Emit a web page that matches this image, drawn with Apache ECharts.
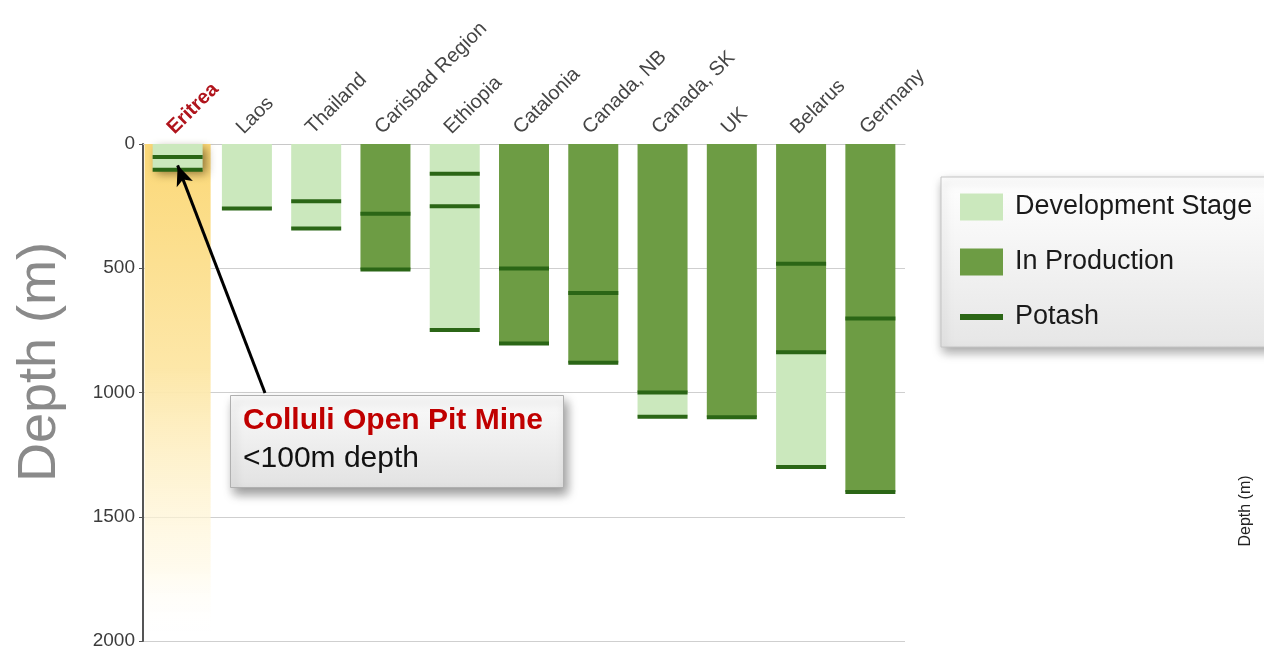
<!DOCTYPE html>
<html>
<head>
<meta charset="utf-8">
<title>Potash deposit depths</title>
<script src="https://cdn.jsdelivr.net/npm/echarts@6/dist/echarts.min.js"></script>
<style>
  html, body { margin: 0; padding: 0; background: #fff; }
  #chart { width: 1264px; height: 656px; }
</style>
</head>
<body>
<div id="chart"></div>
<script>
// ── data (depth in metres) ──
const categories = [
  "Eritrea", "Laos", "Thailand", "Carisbad Region", "Ethiopia",
  "Catalonia", "Canada, NB", "Canada, SK", "UK", "Belarus", "Germany",
];
const productionDepth = [0, 0, 0, 505, 0, 803, 880, 1000, 1100, 838, 1400];
const developmentDepth = [105, 260, 340, 0, 748, 0, 0, 98, 0, 462, 0];
const potashDepths = [
  [52, 104], [260], [230, 340], [281, 505], [120, 250, 748],
  [501, 803], [600, 880], [1000, 1098], [1100], [482, 838, 1300], [702, 1400],
];
// yellow highlight behind the Colluli (Eritrea) column
const highlightDepth = [2000, null, null, null, null, null, null, null, null, null, null];
const yTicks = { min: 0, max: 2000, interval: 500 };

// ── colours ──
const DEV_GREEN = "#cbe8bd";
const PROD_GREEN = "#6d9c44";
const POTASH_GREEN = "#2b6616";
const FONT = "'Liberation Sans', Arial, sans-serif";

const potashPoints = [];
potashDepths.forEach((list, i) => {
  list.forEach((d) => potashPoints.push([categories[i], d]));
});

const chart = echarts.init(document.getElementById("chart"));

chart.setOption({
  animation: false,
  textStyle: { fontFamily: FONT },
  grid: { left: 143, right: 359, top: 144, bottom: 15 },
  legend: {
    left: 941,
    top: 177,
    orient: "vertical",
    padding: [15, 40, 15, 19],
    itemWidth: 43,
    itemHeight: 27,
    itemGap: 25,
    backgroundColor: new echarts.graphic.LinearGradient(0, 0, 0, 1, [
      { offset: 0, color: "#ffffff" },
      { offset: 1, color: "#e6e6e6" },
    ]),
    borderColor: "#c4c4c4",
    borderWidth: 1,
    shadowBlur: 10,
    shadowColor: "rgba(0,0,0,0.35)",
    shadowOffsetX: 2,
    shadowOffsetY: 5,
    textStyle: { fontSize: 27, color: "#1a1a1a", lineHeight: 30, padding: [0, 0, 0, 7] },
    data: [
      { name: "Development Stage", icon: "rect" },
      { name: "In Production", icon: "rect" },
      { name: "Potash", icon: "path://M0,0H43V6H0Z" },
    ],
    selectedMode: false,
  },
  xAxis: [
    {
      type: "category",
      position: "top",
      data: categories,
      axisLine: { lineStyle: { color: "#c8c8c8", width: 1 } },
      axisTick: { show: false },
      axisLabel: {
        rotate: 45,
        margin: 6,
        fontSize: 20,
        color: "#454545",
        verticalAlign: "bottom",
        formatter: (v) => (v === "Eritrea" ? "{hl|" + v + "}" : v),
        rich: { hl: { fontSize: 20, fontWeight: "bold", color: "#b0141c" } },
      },
    },
    {
      // hidden twin axis, only so the highlight band can span the whole column
      type: "category",
      position: "top",
      data: categories,
      show: false,
    },
  ],
  yAxis: {
    type: "value",
    inverse: true,
    min: yTicks.min,
    max: yTicks.max,
    interval: yTicks.interval,
    axisLine: { show: true, lineStyle: { color: "#555", width: 2 } },
    axisTick: { show: true, length: 4, lineStyle: { color: "#555" } },
    axisLabel: { fontSize: 19, color: "#3c3c3c", margin: 8, formatter: (v) => String(v) },
    splitLine: { lineStyle: { color: "#cfcfcf", width: 1 } },
  },
  series: [
    {
      name: "highlight",
      type: "bar",
      xAxisIndex: 1,
      barWidth: 66,
      silent: true,
      z: 1,
      data: highlightDepth,
      itemStyle: {
        color: new echarts.graphic.LinearGradient(0, 0, 0, 1, [
          { offset: 0, color: "#fbd878" },
          { offset: 0.45, color: "#fde7a8" },
          { offset: 0.85, color: "rgba(255,248,225,0.6)" },
          { offset: 1, color: "rgba(255,255,255,0)" },
        ]),
      },
    },
    {
      name: "In Production",
      type: "bar",
      stack: "depth",
      barWidth: 50,
      z: 2,
      itemStyle: { color: PROD_GREEN },
      data: productionDepth,
    },
    {
      name: "Development Stage",
      type: "bar",
      stack: "depth",
      barWidth: 50,
      z: 2,
      itemStyle: { color: DEV_GREEN },
      data: developmentDepth.map((v, i) =>
        i === 0
          ? {
              value: v,
              itemStyle: {
                shadowBlur: 10,
                shadowColor: "rgba(60,40,0,0.55)",
                shadowOffsetX: 4,
                shadowOffsetY: 4,
              },
            }
          : v,
      ),
    },
    {
      name: "Potash",
      type: "scatter",
      symbol: "rect",
      symbolSize: [50, 4],
      z: 3,
      itemStyle: { color: POTASH_GREEN, opacity: 1 },
      data: potashPoints,
      markLine: {
        silent: true,
        symbol: ["none", "arrow"],
        symbolSize: [13, 20],
        label: { show: false },
        lineStyle: { color: "#000", width: 3, type: "solid" },
        data: [[{ x: 265, y: 393 }, { coord: ["Eritrea", 86] }]],
      },
    },
  ],
  graphic: [
    {
      type: "rect",
      left: 230,
      top: 395,
      z: 10,
      shape: { width: 333, height: 92 },
      style: {
        fill: new echarts.graphic.LinearGradient(0, 0, 0, 1, [
          { offset: 0, color: "#fbfbfb" },
          { offset: 1, color: "#e2e2e2" },
        ]),
        stroke: "#b0b0b0",
        lineWidth: 1,
        shadowBlur: 10,
        shadowColor: "rgba(0,0,0,0.4)",
        shadowOffsetX: 3,
        shadowOffsetY: 6,
      },
    },
    {
      type: "text",
      left: 243,
      top: 406,
      z: 11,
      style: {
        text: "Colluli Open Pit Mine",
        font: "bold 30px " + FONT,
        fill: "#c00000",
      },
    },
    {
      type: "text",
      left: 243,
      top: 444,
      z: 11,
      style: {
        text: "<100m depth",
        font: "30px " + FONT,
        fill: "#111",
      },
    },
    {
      type: "text",
      x: 40,
      y: 362,
      rotation: Math.PI / 2,
      style: {
        text: "Depth (m)",
        font: "54px " + FONT,
        fill: "#8a8a8a",
        align: "center",
        verticalAlign: "middle",
      },
    },
    {
      type: "text",
      x: 1246,
      y: 511,
      rotation: Math.PI / 2,
      style: {
        text: "Depth (m)",
        font: "16px " + FONT,
        fill: "#222",
        align: "center",
        verticalAlign: "middle",
      },
    },
  ],
});
</script>
</body>
</html>
